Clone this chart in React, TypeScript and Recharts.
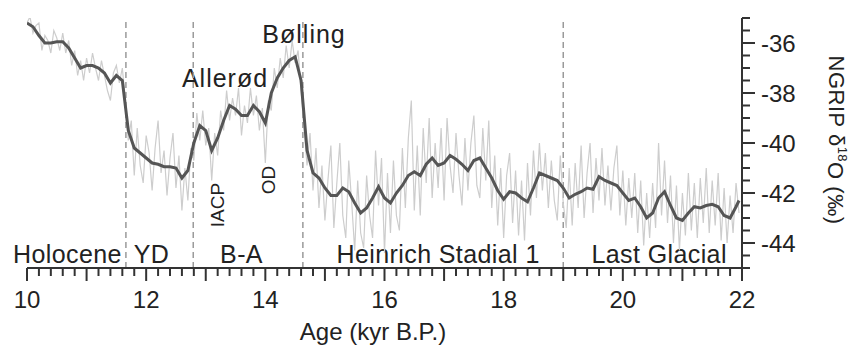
import React from 'react';
import { LineChart, Line, XAxis, YAxis, ReferenceLine, Customized } from 'recharts';

// ---- data ----
const smoothValues = [
  -35.2, -35.35, -35.7, -36.0, -36.0, -35.95, -35.95, -36.2, -36.6, -37.0,
  -36.9, -36.9, -37.0, -37.2, -37.6, -37.3, -37.5, -39.5, -40.2, -40.4,
  -40.6, -40.8, -40.85, -40.95, -40.95, -41.0, -41.4, -41.1, -40.0, -39.3,
  -39.5, -40.3, -39.8, -39.1, -38.5, -38.65, -38.9, -38.9, -38.5, -38.75,
  -39.2, -38.0, -37.4, -37.0, -36.7, -36.55, -37.5, -40.3, -41.2, -41.4,
  -41.8, -42.1, -42.1, -41.8, -41.95, -42.4, -42.8, -42.6, -42.2, -41.75,
  -42.2, -42.4, -42.0, -41.7, -41.3, -41.15, -41.3, -40.85, -40.6, -40.9,
  -40.8, -40.5, -40.65, -40.85, -41.1, -40.7, -40.6, -41.0, -41.4, -41.9,
  -42.25, -41.95, -42.0, -42.2, -42.35, -41.8, -41.2, -41.3, -41.4, -41.5,
  -41.8, -42.2, -42.05, -41.95, -41.8, -41.85, -41.35, -41.5, -41.6, -41.7,
  -42.0, -42.3, -42.2, -42.55, -43.0, -42.8, -42.2, -41.95, -42.5, -43.0,
  -43.1, -42.8, -42.55, -42.6, -42.5, -42.45, -42.55, -42.9, -43.0, -42.55,
  -42.3,
];
const smoothAges = [
  ...Array.from({ length: 120 }, (_, i) => +(10 + i * 0.1).toFixed(2)),
  21.95,
];

const rawValues = [
  -35.2, -34.95, -35.6, -35.3, -35.2, -36.3, -35.7, -35.9, -36.4, -35.5,
  -35.8, -36.3, -35.6, -36.4, -35.9, -36.9, -36.3, -37.3, -36.7, -37.5,
  -36.6, -37.2, -36.4, -37.0, -37.5, -36.7, -37.3, -37.9, -38.3, -37.2,
  -36.9, -37.6, -37.0, -38.3, -39.9, -39.1, -41.3, -39.4, -40.9, -41.6,
  -39.7, -40.4, -41.9, -40.2, -39.1, -41.2, -40.3, -42.1, -40.6, -39.6,
  -41.8, -40.5, -42.7, -41.0, -42.3, -40.2, -40.7, -38.8, -39.9, -38.7,
  -40.1, -39.4, -41.5, -39.6, -40.5, -38.7, -39.5, -37.9, -39.1, -38.2,
  -38.9, -37.8, -39.7, -38.5, -39.2, -37.8, -38.9, -38.1, -39.5, -38.6,
  -40.8, -38.3, -38.7, -37.0, -37.8, -36.6, -37.4, -36.1, -37.0, -35.9,
  -36.8, -36.3, -37.9, -39.4, -40.9, -39.6, -41.9, -40.2, -42.6, -40.9,
  -43.1, -41.5, -40.1, -43.4, -41.6, -40.0, -42.9, -43.8, -40.7, -42.4,
  -44.3, -41.5, -43.6, -44.2, -41.3, -42.9, -43.8, -40.3, -42.5, -40.6,
  -44.4, -41.2, -43.6, -40.7, -42.9, -43.5, -40.2, -42.6, -39.8, -38.3,
  -42.7, -40.1, -42.9, -39.4, -41.6, -39.0, -42.2, -40.0, -41.8, -39.4,
  -42.3, -39.0, -40.9, -42.0, -39.6, -41.3, -42.5, -39.8, -41.9, -40.0,
  -38.9, -41.7, -42.2, -39.4, -41.5, -39.1, -42.6, -40.5, -43.3, -41.0,
  -43.8, -41.3, -40.4, -43.2, -41.1, -43.7, -41.5, -43.9, -40.8, -42.9,
  -40.3, -42.2, -40.0, -41.9, -40.4, -42.6, -40.7, -42.3, -43.1, -40.5,
  -42.4, -43.4, -41.0, -43.3, -40.8, -42.6, -40.1, -43.0, -41.2, -40.0,
  -42.8, -40.6, -42.3, -40.2, -42.5, -40.9, -42.7, -41.0, -40.1, -42.9,
  -41.1, -43.3, -41.4, -43.0, -41.2, -43.6, -41.5, -44.1, -42.0, -43.8,
  -41.6, -43.4, -40.0, -42.9, -40.7, -43.2, -41.3, -44.0, -41.7, -44.3,
  -42.0, -43.7, -41.2, -43.5, -41.6, -43.8, -41.4, -43.2, -41.0, -43.6,
  -41.5, -43.3, -41.2, -43.9, -41.8, -44.0, -42.1, -43.6, -41.6, -42.8,
];
const rawAges = Array.from({ length: rawValues.length }, (_, i) => +(10 + i * 0.05).toFixed(2));

const xTickLabels = [10, 12, 14, 16, 18, 20, 22];
const yTickLabels = [-36, -38, -40, -42, -44];
const boundaries = [11.66, 12.79, 14.63, 19.0];
const periodNames = ['Holocene', 'YD', 'B-A', 'Heinrich Stadial 1', 'Last Glacial'];
const periodCenters = [10.68, 12.09, 13.6, 16.9, 20.61];

const smoothData = smoothAges.map((a, i) => ({ age: a, v: smoothValues[i] }));
const rawData = rawAges.map((a, i) => ({ age: a, v: rawValues[i] }));

const xMinorTicks = Array.from({ length: 61 }, (_, i) => +(10 + i * 0.2).toFixed(1));
const yMinorTicks = Array.from({ length: 21 }, (_, i) => +(-45 + i * 0.5).toFixed(1));

// ---- layout ----
const W = 853;
const H = 347;
const LEFT = 27;
const RIGHT = 742;
const TOP = 18;
const BOTTOM = 268;
const X_MIN = 10;
const X_MAX = 22;
const Y_MIN = -45;
const Y_MAX = -35;
const px = (age: number) => LEFT + ((age - X_MIN) / (X_MAX - X_MIN)) * (RIGHT - LEFT);
const py = (val: number) => TOP + ((Y_MAX - val) / (Y_MAX - Y_MIN)) * (BOTTOM - TOP);

const FONT = '"Liberation Sans", Arial, Helvetica, sans-serif';
const INK = '#222';

const XTick = (props: any) => {
  const { x, y, payload } = props;
  const v = payload.value as number;
  const isInt = Math.abs(v - Math.round(v)) < 1e-6;
  const isLabel = isInt && xTickLabels.includes(Math.round(v));
  return (
    <g>
      <line x1={x} x2={x} y1={y} y2={y + (isInt ? 13 : 8)} stroke="#333" strokeWidth={2} />
      {isLabel && (
        <text x={x} y={y + 40} textAnchor="middle" fontSize={24} fill={INK} fontFamily={FONT}>
          {Math.round(v)}
        </text>
      )}
    </g>
  );
};

const YTick = (props: any) => {
  const { x, y, payload } = props;
  const v = payload.value as number;
  const isLabel = yTickLabels.includes(v);
  return (
    <g>
      <line x1={x} x2={x + (isLabel ? 13 : 8)} y1={y} y2={y} stroke="#333" strokeWidth={2} />
      {isLabel && (
        <text x={x + 19} y={y + 8.5} textAnchor="start" fontSize={24} fill={INK} fontFamily={FONT}>
          {v}
        </text>
      )}
    </g>
  );
};

const Labels = () => (
  <g fontFamily={FONT} fill={INK}>
    {periodNames.map((n, i) => (
      <text key={n} x={px(periodCenters[i])} y={263} textAnchor="middle" fontSize={25} letterSpacing={0.4}>
        {n}
      </text>
    ))}
    <text x={px(13.95)} y={py(-36.0)} fontSize={25} letterSpacing={1}>Bølling</text>
    <text x={px(12.6)} y={py(-37.76)} fontSize={25} letterSpacing={1}>Allerød</text>
    <text
      x={px(13.19)}
      y={py(-42.48)}
      fontSize={19}
      textAnchor="middle"
      dominantBaseline="central"
      transform={`rotate(-90, ${px(13.19)}, ${py(-42.48)})`}
    >
      IACP
    </text>
    <text
      x={px(14.05)}
      y={py(-41.48)}
      fontSize={19}
      textAnchor="middle"
      dominantBaseline="central"
      transform={`rotate(-90, ${px(14.05)}, ${py(-41.48)})`}
    >
      OD
    </text>
    <text x={373} y={340} textAnchor="middle" fontSize={24}>Age (kyr B.P.)</text>
    <text
      x={836}
      y={140}
      fontSize={22}
      textAnchor="middle"
      dominantBaseline="central"
      letterSpacing={0.5}
      transform="rotate(90, 836, 140)"
    >
      NGRIP δ<tspan dy={-7} fontSize={13}>18</tspan>
      <tspan dy={7}>O (‰)</tspan>
    </text>
  </g>
);

export default function App() {
  return (
    <div style={{ position: 'absolute', left: 0, top: 0, width: W, height: H, background: '#fff' }}>
      <LineChart
        width={W}
        height={H}
        margin={{ top: TOP, right: 0, bottom: 0, left: LEFT }}
        style={{ fontFamily: FONT }}
      >
        <XAxis
          dataKey="age"
          type="number"
          domain={[X_MIN, X_MAX]}
          ticks={xMinorTicks}
          interval={0}
          allowDataOverflow
          height={H - BOTTOM}
          tickSize={0}
          tickMargin={0}
          tickLine={false}
          axisLine={{ stroke: '#333', strokeWidth: 2 }}
          tick={<XTick />}
        />
        <YAxis
          orientation="right"
          type="number"
          domain={[Y_MIN, Y_MAX]}
          ticks={yMinorTicks}
          interval={0}
          allowDataOverflow
          width={W - RIGHT}
          tickSize={0}
          tickMargin={0}
          tickLine={false}
          axisLine={{ stroke: '#333', strokeWidth: 2 }}
          tick={<YTick />}
        />
        {boundaries.map((b) => (
          <ReferenceLine key={b} x={b} stroke="#9a9a9a" strokeWidth={1.5} strokeDasharray="6 4" />
        ))}
        <Line
          data={rawData}
          dataKey="v"
          type="linear"
          stroke="#cdcdcd"
          strokeWidth={1.2}
          dot={false}
          activeDot={false}
          isAnimationActive={false}
        />
        <Line
          data={smoothData}
          dataKey="v"
          type="linear"
          stroke="#555"
          strokeWidth={3}
          dot={false}
          activeDot={false}
          isAnimationActive={false}
        />
        <Customized component={Labels} />
      </LineChart>
    </div>
  );
}
